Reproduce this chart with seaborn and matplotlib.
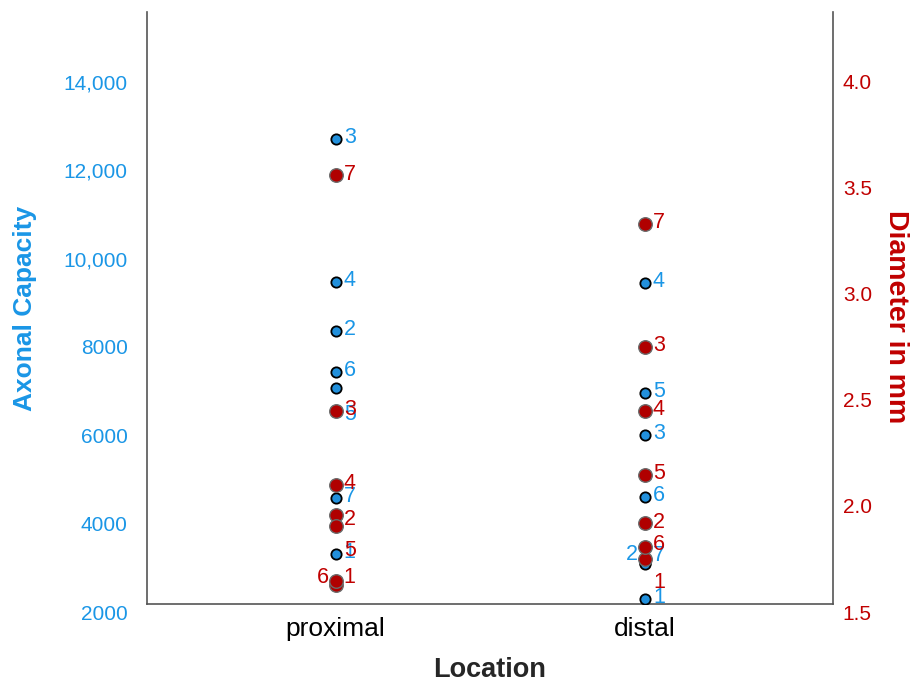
import pandas as pd
import matplotlib.pyplot as plt
import matplotlib.transforms as mtransforms
import seaborn as sns

sns.set_theme(style="white")
plt.rcParams['font.family'] = ['Liberation Sans', 'DejaVu Sans']

BLUE = "#1a96e6"
BLUE_DOT = "#2290dc"
RED = "#c00000"
RED_DOT = "#b00000"

locations = ["proximal", "distal"]
subjects = [1, 2, 3, 4, 5, 6, 7]
axonal_proximal = [3130, 8180, 12530, 9290, 6890, 7250, 4400]
axonal_distal = [2110, 2930, 5830, 9270, 6780, 4420, 2900]
diam_proximal = [1.59, 1.92, 2.41, 2.06, 1.87, 1.61, 3.52]
diam_distal = [1.71, 1.88, 2.71, 2.41, 2.11, 1.77, 3.29]

df = pd.DataFrame({
    "location": ["proximal"] * 7 + ["distal"] * 7,
    "subject": subjects * 2,
    "axonal": axonal_proximal + axonal_distal,
    "diameter": diam_proximal + diam_distal,
})

# label nudges (points) so numbers don't sit on top of each other
blue_nudge = {("proximal", 5): (6, -19), ("distal", 2): (-5, 6), ("distal", 7): (6, 6),
              ("distal", 1): (6, 1.5)}
red_nudge = {("proximal", 5): (6, -18), ("proximal", 2): (6, -3.5), ("proximal", 6): (-5, 2),
             ("proximal", 1): (6, 5), ("distal", 1): (6, -16.5), ("distal", 6): (6, 1.5)}

fig = plt.figure(figsize=(9.16, 6.86), dpi=100)
ax = fig.add_axes([0.1605, 0.1195, 0.749, 0.863])
ax2 = ax.twinx()

sns.scatterplot(data=df, x="location", y="axonal", ax=ax, color=BLUE_DOT,
                edgecolor="black", linewidth=1.3, s=55, zorder=3)
sns.scatterplot(data=df, x="location", y="diameter", ax=ax2, color=RED_DOT,
                edgecolor="#6a6a6a", linewidth=1.0, s=95, zorder=3)

for _, r in df.iterrows():
    i = locations.index(r["location"])
    dx, dy = blue_nudge.get((r["location"], r["subject"]), (6, 1))
    ax.annotate(str(r["subject"]), xy=(i, r["axonal"]), xytext=(dx, dy),
                textcoords="offset points", color=BLUE, fontsize=15.5,
                ha="left" if dx > 0 else "right", va="center", zorder=4)
    dx, dy = red_nudge.get((r["location"], r["subject"]), (6, 1))
    ax2.annotate(str(r["subject"]), xy=(i, r["diameter"]), xytext=(dx, dy),
                 textcoords="offset points", color=RED, fontsize=15.5,
                 ha="left" if dx > 0 else "right", va="center", zorder=4)

ax.set_xlim(-0.61, 1.61)
ax.set_ylim(2000, 15400)
ax2.set_ylim(1.5, 4.29)

ax.set_yticks([2000, 4000, 6000, 8000, 10000, 12000, 14000])
ax.set_yticklabels(["2000", "4000", "6000", "8000", "10,000", "12,000", "14,000"])
ax2.set_yticks([1.5, 2.0, 2.5, 3.0, 3.5, 4.0])
ax2.set_yticklabels(["1.5", "2.0", "2.5", "3.0", "3.5", "4.0"])

ax.tick_params(axis="y", length=0, pad=14, labelsize=15, labelcolor=BLUE)
ax2.tick_params(axis="y", length=0, pad=7, labelsize=15, labelcolor=RED)
ax.tick_params(axis="x", length=0, pad=9, labelsize=19, labelcolor="black")

shift = mtransforms.ScaledTranslation(0, -0.08, fig.dpi_scale_trans)
for lab in ax.get_yticklabels() + ax2.get_yticklabels():
    lab.set_transform(lab.get_transform() + shift)

ax.set_xlabel("Location", fontsize=19.5, fontweight="bold", labelpad=12)
ax.set_ylabel("Axonal Capacity", fontsize=19, fontweight="bold", color=BLUE)
ax2.set_ylabel("Diameter in mm", fontsize=20.5, fontweight="bold", color=RED, rotation=270)
ax.yaxis.set_label_coords(-0.16, 0.5)
ax2.yaxis.set_label_coords(1.11, 0.485)

for a in (ax, ax2):
    a.spines["top"].set_visible(False)
    for s in ("left", "right", "bottom"):
        a.spines[s].set_color("#555555")
        a.spines[s].set_linewidth(1.2)
ax.spines["right"].set_visible(False)
ax2.spines["left"].set_visible(False)
ax2.spines["bottom"].set_visible(False)
ax.grid(False)
ax2.grid(False)

plt.savefig("out.png", dpi=100)
